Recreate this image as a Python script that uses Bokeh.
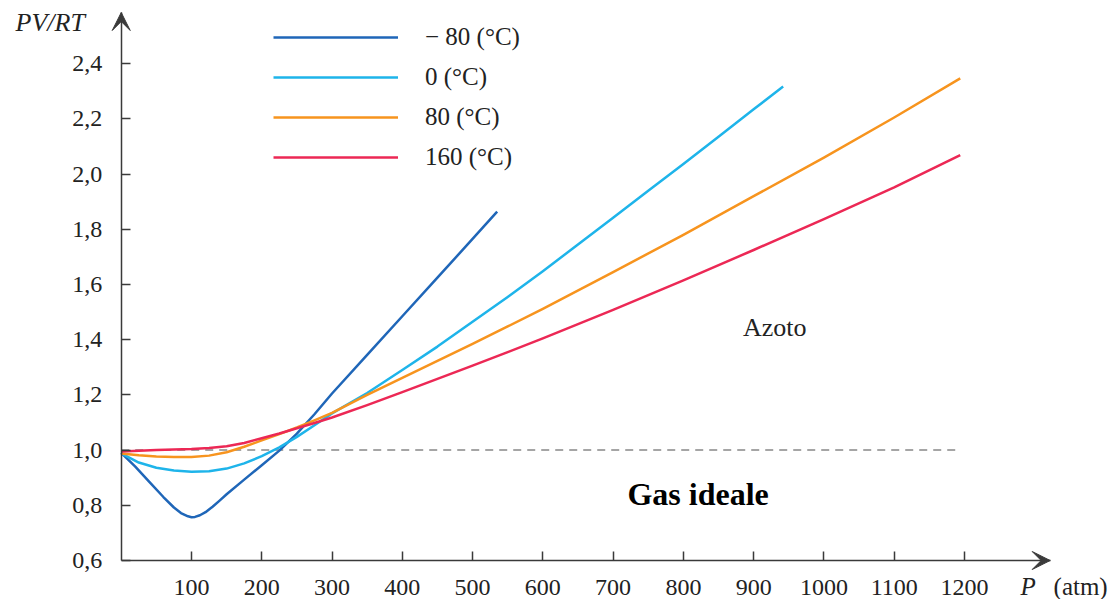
from bokeh.plotting import figure
from bokeh.models import (Range1d, FixedTicker, CustomJSTickFormatter, Arrow, VeeHead,
                          Label, Legend, LegendItem)
from bokeh.embed import file_html
from bokeh.resources import INLINE

SERIF = "Liberation Serif"

# ---- data (P in atm, PV/RT) ----
p_m80 = [0, 20, 40, 60, 75, 85, 95, 100, 105, 112, 120, 130, 140, 150, 175, 200, 225, 250, 275, 300,
         350, 400, 450, 500, 535]
v_m80 = [0.99, 0.94, 0.885, 0.83, 0.792, 0.772, 0.76, 0.757, 0.758, 0.764, 0.775, 0.795, 0.817, 0.84,
         0.893, 0.945, 0.998, 1.06, 1.13, 1.205, 1.345, 1.485, 1.625, 1.765, 1.864]

p_0 = [0, 25, 50, 75, 100, 125, 150, 175, 200, 225, 250, 275, 300, 350, 400, 450, 500, 550, 600,
       650, 700, 750, 800, 850, 900, 942]
v_0 = [0.988, 0.955, 0.936, 0.926, 0.922, 0.923, 0.933, 0.952, 0.978, 1.01, 1.048, 1.09, 1.133, 1.207,
       1.29, 1.375, 1.465, 1.555, 1.648, 1.745, 1.842, 1.94, 2.037, 2.135, 2.235, 2.317]

p_80 = [0, 25, 50, 75, 100, 125, 150, 175, 200, 225, 250, 275, 300, 350, 400, 450, 500, 550, 600,
        700, 800, 900, 1000, 1100, 1194]
v_80 = [0.988, 0.981, 0.977, 0.975, 0.975, 0.98, 0.992, 1.012, 1.035, 1.058, 1.082, 1.108, 1.135, 1.2,
        1.262, 1.323, 1.385, 1.448, 1.512, 1.645, 1.78, 1.92, 2.06, 2.205, 2.347]

p_160 = [0, 50, 100, 125, 150, 175, 200, 225, 250, 275, 300, 350, 400, 450, 500, 550, 600,
         700, 800, 900, 1000, 1100, 1194]
v_160 = [0.995, 1.0, 1.004, 1.008, 1.014, 1.026, 1.043, 1.06, 1.079, 1.098, 1.118, 1.163, 1.21, 1.258,
         1.306, 1.355, 1.405, 1.508, 1.615, 1.725, 1.837, 1.952, 2.069]

ideal_p = [0, 1195]
ideal_v = [1.0, 1.0]

x_ticks = [100, 200, 300, 400, 500, 600, 700, 800, 900, 1000, 1100, 1200]
y_ticks = [0.6, 0.8, 1.0, 1.2, 1.4, 1.6, 1.8, 2.0, 2.2, 2.4]

series_labels = ["\u2212 80 (\u00b0C)", "0 (\u00b0C)", "80 (\u00b0C)", "160 (\u00b0C)"]
colors = ["#1f66b8", "#1eb4ea", "#f7941e", "#ec2855"]

X_AXIS_END = 1322
Y_AXIS_END = 2.5855
Y_BASE = 0.6
AX = "#3a3a3a"

p = figure(width=1117, height=599, output_backend="svg", toolbar_location=None,
           x_range=Range1d(-171.8, 1417.8), y_range=Range1d(0.4587, 2.629),
           min_border=0)
p.outline_line_color = None
p.grid.visible = False

p.xaxis.fixed_location = Y_BASE
p.yaxis.fixed_location = 0
p.xaxis.bounds = (0, X_AXIS_END)
p.yaxis.bounds = (Y_BASE, Y_AXIS_END)

for ax in (p.xaxis[0], p.yaxis[0]):
    ax.axis_line_color = AX
    ax.axis_line_width = 1.5
    ax.major_tick_line_color = AX
    ax.major_tick_line_width = 1.5
    ax.major_tick_in = 9
    ax.major_tick_out = 0
    ax.minor_tick_line_color = None
    ax.major_label_text_font = SERIF
    ax.major_label_text_font_size = "24px"
    ax.major_label_text_color = "#222222"

p.xaxis.ticker = FixedTicker(ticks=x_ticks)
p.xaxis.major_label_standoff = 19
p.yaxis.ticker = FixedTicker(ticks=y_ticks)
p.yaxis.formatter = CustomJSTickFormatter(code="return tick.toFixed(1).replace('.', ',');")
p.yaxis.major_label_standoff = 19

# ideal gas reference
p.line(ideal_p, ideal_v, line_color="#888888", line_width=1.5, line_dash="8 6")

renderers = []
for xs, ys, c in zip([p_m80, p_0, p_80, p_160], [v_m80, v_0, v_80, v_160], colors):
    renderers.append(p.line(xs, ys, line_color=c, line_width=2.5, line_join="round"))

legend = Legend(items=[LegendItem(label=l, renderers=[r]) for l, r in zip(series_labels, renderers)],
                location=(273, 427), glyph_width=125, glyph_height=30, label_height=30,
                spacing=10, padding=0, margin=0, border_line_alpha=0, background_fill_alpha=0,
                label_text_font=SERIF, label_text_font_size="25px", label_text_color="#222222",
                label_standoff=27)
p.add_layout(legend)

# axis arrows
p.add_layout(Arrow(end=VeeHead(size=18, fill_color=AX, line_color=AX, line_width=1),
                   x_start=X_AXIS_END - 30, y_start=Y_BASE, x_end=X_AXIS_END, y_end=Y_BASE,
                   line_alpha=0))
p.add_layout(Arrow(end=VeeHead(size=18, fill_color=AX, line_color=AX, line_width=1),
                   x_start=0, y_start=Y_AXIS_END - 0.1, x_end=0, y_end=Y_AXIS_END, line_alpha=0))

# texts
p.add_layout(Label(x=-150.4, y=2.551, text="PV/RT",
                   text_font=SERIF, text_font_style="italic", text_font_size="26px",
                   text_color="#222222", text_baseline="middle", text_align="left"))
p.add_layout(Label(x=1279.8, y=0.5058, text="P",
                   text_font=SERIF, text_font_style="italic", text_font_size="25px",
                   text_color="#222222", text_baseline="middle", text_align="left"))
p.add_layout(Label(x=1326.8, y=0.5058, text="(atm)",
                   text_font=SERIF, text_font_size="25px",
                   text_color="#222222", text_baseline="middle", text_align="left"))
p.add_layout(Label(x=930, y=1.444, text="Azoto", text_font=SERIF, text_font_size="26px",
                   text_color="#222222", text_baseline="middle", text_align="center"))
p.add_layout(Label(x=821, y=0.841, text="Gas ideale", text_font=SERIF, text_font_style="bold",
                   text_font_size="32px", text_color="#000000", text_baseline="middle",
                   text_align="center"))

open("out.html", "w").write(file_html(p, INLINE))
